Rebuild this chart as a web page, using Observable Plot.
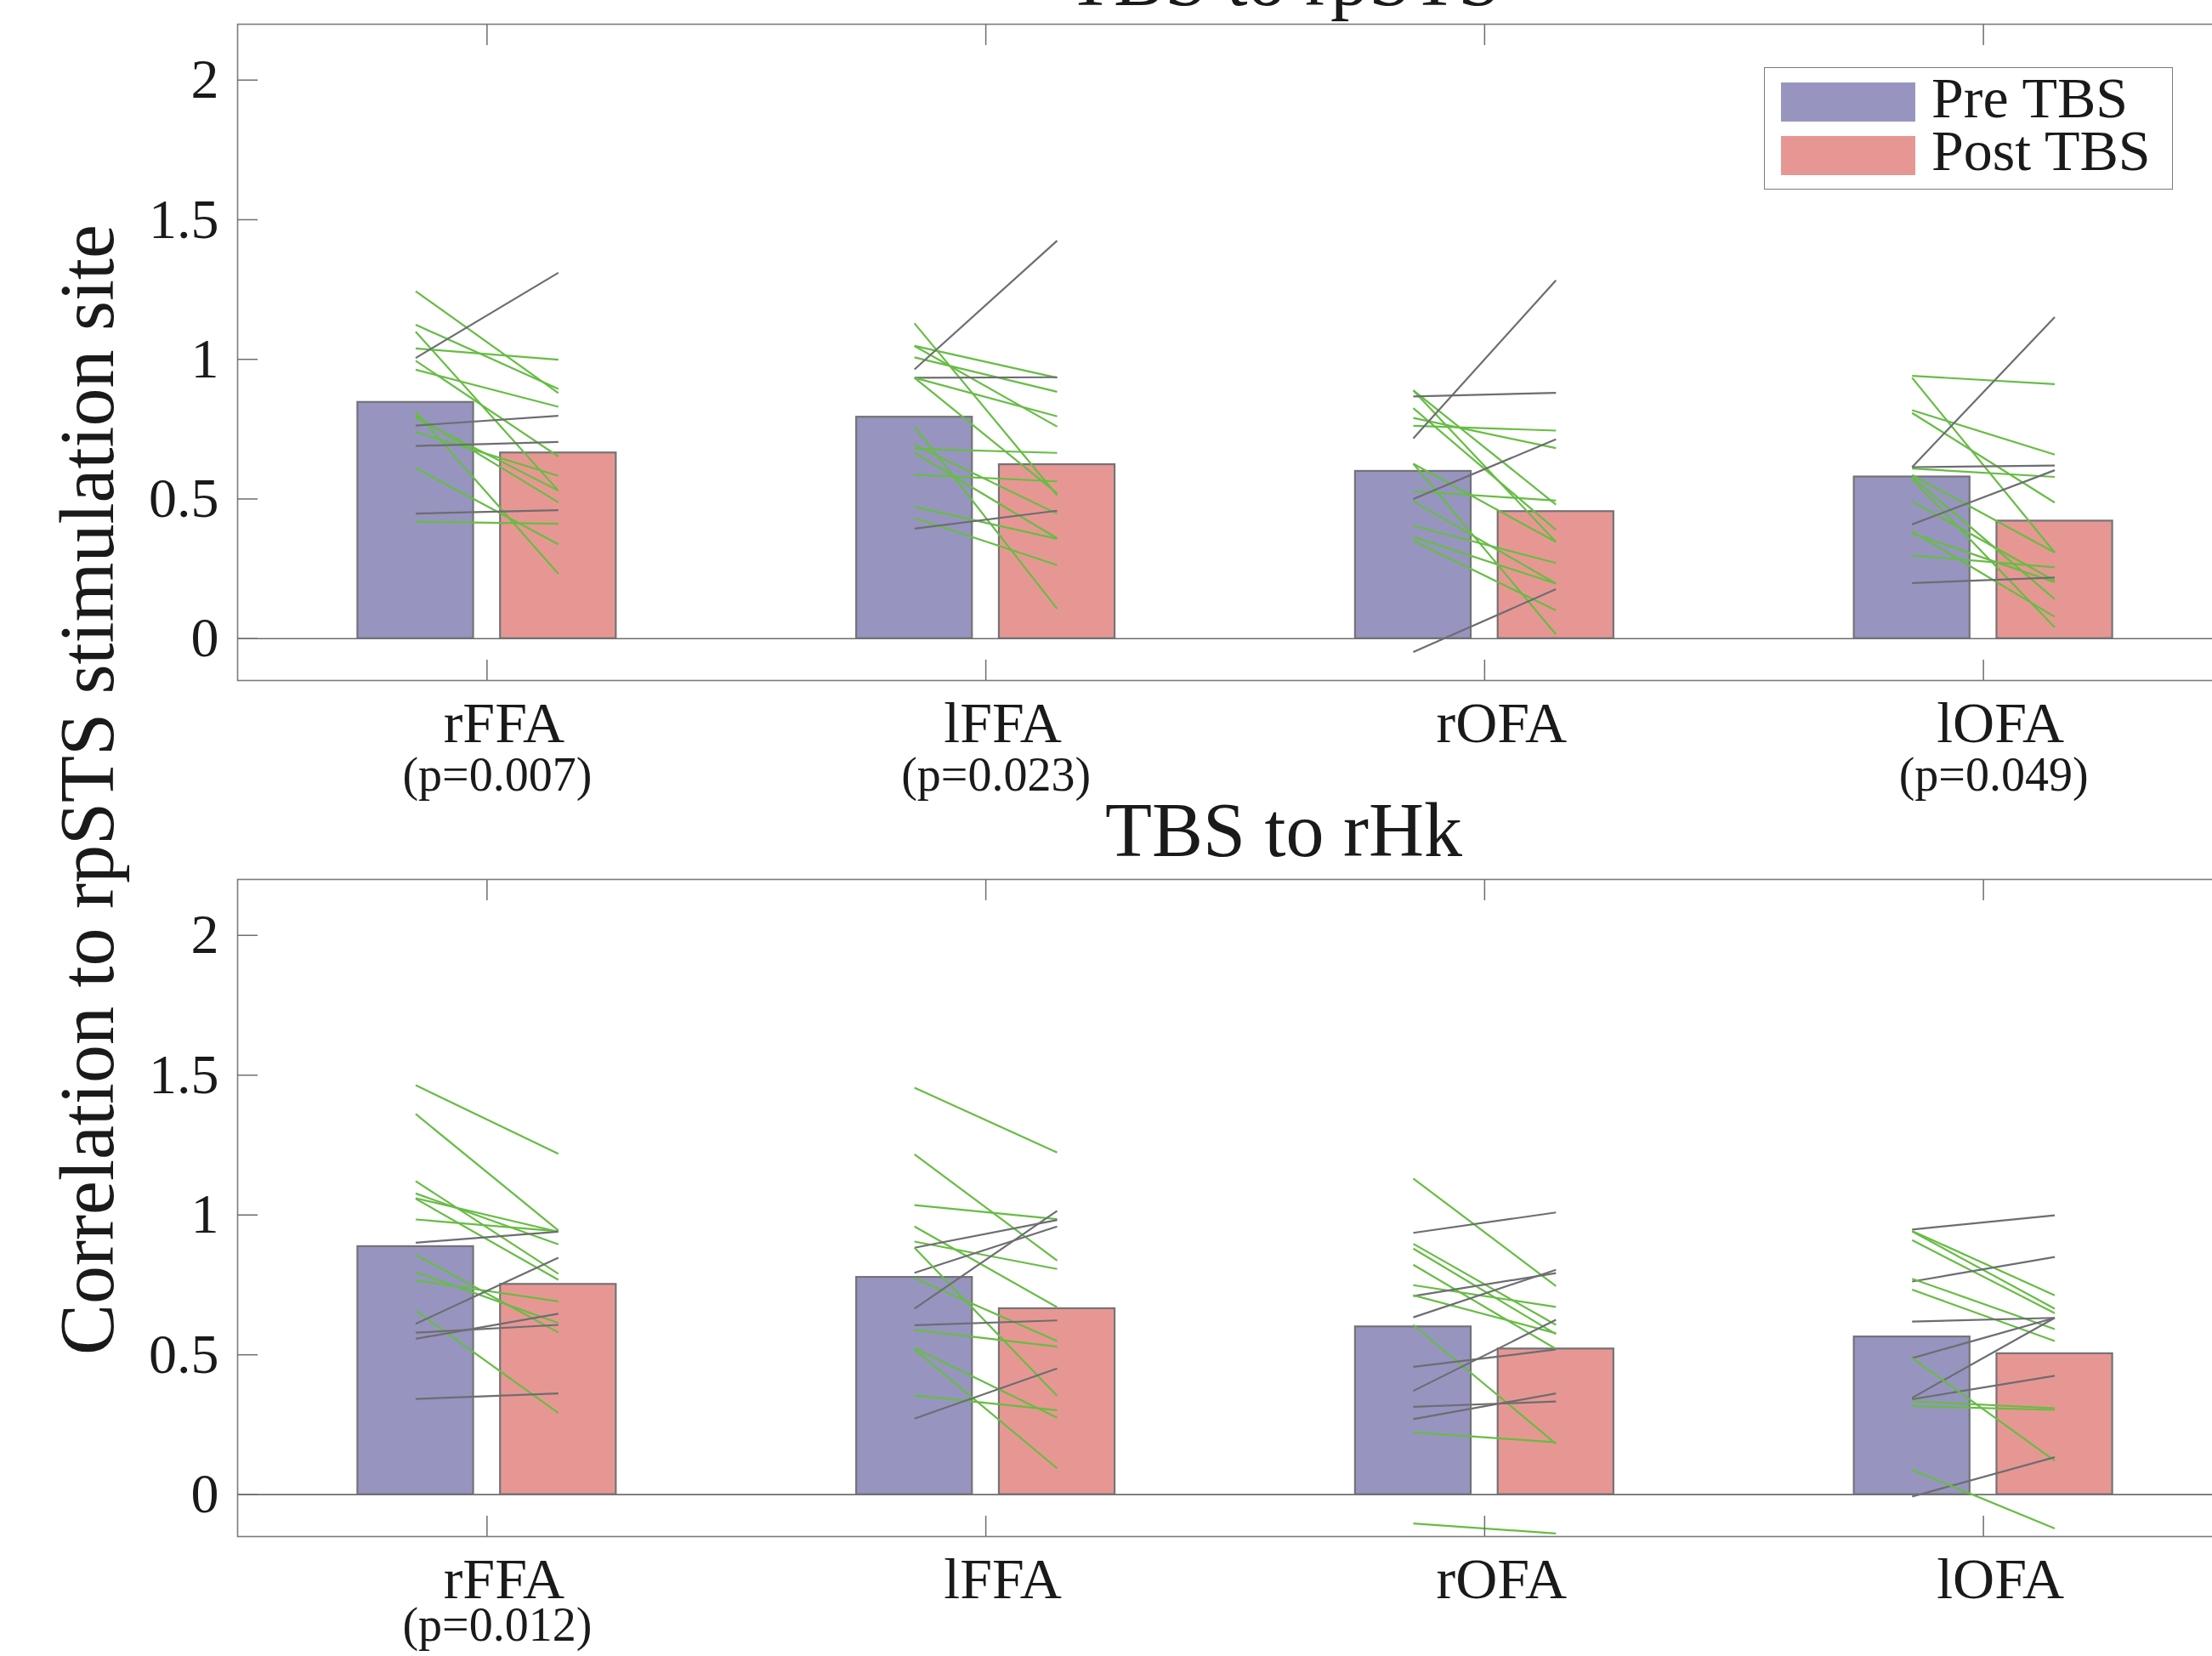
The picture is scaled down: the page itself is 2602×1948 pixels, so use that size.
<!DOCTYPE html>
<html><head><meta charset="utf-8">
<script src="https://cdn.jsdelivr.net/npm/d3@7"></script>
<script src="https://cdn.jsdelivr.net/npm/@observablehq/plot@0.6"></script>
<style>
html,body{margin:0;padding:0;background:#fff;overflow:hidden;}
#wrap{position:relative;width:2602px;height:1948px;overflow:hidden;font-family:"Liberation Serif","Times New Roman",serif;color:#1a1a1a;}
.abs{position:absolute;white-space:nowrap;}
#wrap svg{max-width:none !important;}
</style></head><body><div id="wrap"></div>
<script>
// ---------- data ----------
const regions = ["rFFA", "lFFA", "rOFA", "lOFA"];
const conditions = ["Pre TBS", "Post TBS"];
const yTicks = [0, 0.5, 1, 1.5, 2];
const titles = ["TBS to rpSTS", "TBS to rHk"];
const yLabel = "Correlation to rpSTS stimulation site";

const pLabelsTop = ["(p=0.007)", "(p=0.023)", "", "(p=0.049)"];
const pLabelsBottom = ["(p=0.012)", "", "", ""];

const barPreTop = [0.846, 0.793, 0.599, 0.579];
const barPostTop = [0.665, 0.623, 0.455, 0.421];
const barPreBottom = [0.887, 0.777, 0.600, 0.564];
const barPostBottom = [0.752, 0.665, 0.521, 0.504];

// individual subjects, top panel (TBS to rpSTS)
const preTop_rFFA  = [1.244, 1.124, 1.099, 1.039, 1.005, 0.995, 0.963, 0.811, 0.798, 0.790, 0.763, 0.740, 0.690, 0.611, 0.448, 0.419];
const postTop_rFFA = [0.879, 0.894, 0.530, 0.999, 1.310, 0.652, 0.830, 0.232, 0.488, 0.530, 0.798, 0.583, 0.704, 0.338, 0.460, 0.411];
const preTop_lFFA  = [1.129, 1.048, 1.048, 1.007, 0.964, 0.934, 0.934, 0.934, 0.759, 0.694, 0.680, 0.665, 0.587, 0.472, 0.432, 0.394];
const postTop_lFFA = [0.513, 0.934, 0.759, 0.884, 1.425, 0.936, 0.796, 0.520, 0.107, 0.447, 0.665, 0.359, 0.563, 0.357, 0.263, 0.458];
const preTop_rOFA  = [0.889, 0.889, 0.825, 0.790, 0.762, 0.626, 0.626, 0.528, 0.492, 0.404, 0.364, 0.351, 0.717, 0.867, 0.500, -0.048];
const postTop_rOFA = [0.346, 0.480, 0.389, 0.682, 0.745, 0.346, 0.015, 0.494, 0.197, 0.271, 0.197, 0.101, 1.283, 0.880, 0.714, 0.177];
const preTop_lOFA  = [0.941, 0.934, 0.818, 0.808, 0.609, 0.586, 0.579, 0.571, 0.492, 0.384, 0.377, 0.298, 0.614, 0.614, 0.409, 0.199];
const postTop_lOFA = [0.911, 0.308, 0.659, 0.487, 0.579, 0.308, 0.141, 0.040, 0.207, 0.078, 0.202, 0.255, 1.151, 0.620, 0.603, 0.219];

// individual subjects, bottom panel (TBS to rHk)
const preBot_rFFA  = [1.464, 1.361, 1.121, 1.077, 1.060, 1.058, 0.984, 0.901, 0.858, 0.796, 0.766, 0.658, 0.611, 0.579, 0.557, 0.342];
const postBot_rFFA = [1.219, 0.945, 0.790, 0.895, 0.940, 0.768, 0.942, 0.940, 0.580, 0.614, 0.691, 0.292, 0.847, 0.607, 0.647, 0.362];
const preBot_lFFA  = [1.455, 1.217, 1.035, 0.959, 0.905, 0.883, 0.793, 0.883, 0.774, 0.665, 0.606, 0.589, 0.524, 0.519, 0.354, 0.272];
const postBot_lFFA = [1.223, 0.837, 0.985, 0.670, 0.807, 0.982, 0.959, 0.353, 0.549, 1.015, 0.623, 0.529, 0.275, 0.094, 0.302, 0.451];
const preBot_rOFA  = [1.130, 0.936, 0.897, 0.880, 0.822, 0.749, 0.710, 0.713, 0.634, 0.607, 0.457, 0.371, 0.314, 0.270, 0.223, -0.103];
const postBot_rOFA = [0.746, 1.009, 0.607, 0.574, 0.521, 0.671, 0.792, 0.577, 0.804, 0.182, 0.519, 0.625, 0.333, 0.362, 0.187, -0.139];
const preBot_lOFA  = [0.948, 0.943, 0.941, 0.910, 0.762, 0.772, 0.733, 0.619, 0.488, 0.346, 0.341, 0.489, 0.334, 0.316, -0.007, 0.089];
const postBot_lOFA = [0.999, 0.713, 0.665, 0.649, 0.850, 0.592, 0.549, 0.632, 0.632, 0.632, 0.425, 0.121, 0.309, 0.303, 0.134, -0.121];

// ---------- style ----------
const PRE_COLOR = "#9795bf", POST_COLOR = "#e79793";
const GREEN = "#66bd44", GRAY = "#6d6d72";
const OFF = 0.143, HALF = 0.116;

function panel(pre, post, barPre, barPost, pLabels, height, marginTop, marginBottom, pDy) {
  const bars = [];
  regions.forEach((r, i) => {
    bars.push({cond: conditions[0], x1: i + 1 - OFF - HALF, x2: i + 1 - OFF + HALF, v: barPre[i]});
    bars.push({cond: conditions[1], x1: i + 1 + OFF - HALF, x2: i + 1 + OFF + HALF, v: barPost[i]});
  });
  const links = [];
  regions.forEach((r, i) => pre[i].forEach((p, j) =>
    links.push({x1: i + 1 - OFF, x2: i + 1 + OFF, y1: p, y2: post[i][j], up: post[i][j] > p})));
  const pData = regions.map((r, i) => ({x: i + 1, t: pLabels[i]})).filter(d => d.t);
  const svg = Plot.plot({
    width: 2626, height, marginLeft: 279, marginRight: 0, marginTop, marginBottom,
    x: {domain: [0.5, 4.5]},
    y: {domain: [-0.15, 2.2]},
    color: {domain: conditions, range: [PRE_COLOR, POST_COLOR]},
    style: {fontFamily: "'Liberation Serif', 'Times New Roman', serif", color: "#1a1a1a", background: "transparent", overflow: "visible"},
    marks: [
      Plot.ruleY([0], {stroke: "#6e6e6e", strokeWidth: 1.6}),
      Plot.rect(bars, {x1: "x1", x2: "x2", y1: 0, y2: "v", fill: "cond", stroke: "#737377", strokeWidth: 2.2}),
      Plot.link(links, {x1: "x1", x2: "x2", y1: "y1", y2: "y2", stroke: d => d.up ? GRAY : GREEN, strokeWidth: 2.2}),
      Plot.frame({stroke: "#7b7b7b", strokeWidth: 1.6}),
      Plot.axisY({ticks: yTicks, tickSize: 0, tickPadding: 22, tickFormat: d => String(d), fontSize: 66, label: null}),
      Plot.axisY({ticks: yTicks, tickSize: 24, dx: 24, tickFormat: () => "", stroke: "#6e6e6e", strokeWidth: 1.5, label: null}),
      Plot.axisX({ticks: [1, 2, 3, 4], tickFormat: d => regions[d - 1], tickSize: 0, tickPadding: 24, dx: 20, fontSize: 68, label: null}),
      Plot.axisX({ticks: [1, 2, 3, 4], tickSize: 24, dy: -24, tickFormat: () => "", stroke: "#6e6e6e", strokeWidth: 1.5, label: null}),
      Plot.axisX({anchor: "top", ticks: [1, 2, 3, 4], tickSize: 24, dy: 24, tickFormat: () => "", stroke: "#6e6e6e", strokeWidth: 1.5, label: null}),
      Plot.text(pData, {x: "x", text: "t", frameAnchor: "bottom", dy: pDy, dx: 12, fontSize: 56, lineAnchor: "middle", fill: "#1a1a1a"})
    ]
  });
  svg.style.maxWidth = "none";
  svg.style.width = "2626px";
  svg.style.height = height + "px";
  return svg;
}

const wrap = document.getElementById("wrap");

const topPanel = panel(
  [preTop_rFFA, preTop_lFFA, preTop_rOFA, preTop_lOFA],
  [postTop_rFFA, postTop_lFFA, postTop_rOFA, postTop_lOFA],
  barPreTop, barPostTop, pLabelsTop, 950, 28, 150, 112);
topPanel.style.position = "absolute"; topPanel.style.left = "0px"; topPanel.style.top = "0px";
wrap.appendChild(topPanel);

const botPanel = panel(
  [preBot_rFFA, preBot_lFFA, preBot_rOFA, preBot_lOFA],
  [postBot_rFFA, postBot_lFFA, postBot_rOFA, postBot_lOFA],
  barPreBottom, barPostBottom, pLabelsBottom, 998, 84, 141, 105);
botPanel.style.position = "absolute"; botPanel.style.left = "0px"; botPanel.style.top = "950px";
wrap.appendChild(botPanel);

function addDiv(text, css) {
  const d = document.createElement("div");
  d.className = "abs";
  d.textContent = text;
  Object.assign(d.style, css);
  wrap.appendChild(d);
  return d;
}
// titles
addDiv(titles[0], {left: "1510px", top: "-69px", fontSize: "90px", lineHeight: "90px", transform: "translateX(-50%)"});
addDiv(titles[1], {left: "1510px", top: "932px", fontSize: "90px", lineHeight: "90px", transform: "translateX(-50%)"});
// y label
addDiv(yLabel, {left: "103px", top: "929px", fontSize: "90px", lineHeight: "90px", transform: "translate(-50%,-50%) rotate(-90deg)"});
// legend
addDiv("", {left: "2075px", top: "79px", width: "479px", height: "142px", border: "1.6px solid #7a7a7a", background: "#fff"});
addDiv("", {left: "2095px", top: "97px", width: "158px", height: "46px", background: PRE_COLOR});
addDiv("", {left: "2095px", top: "160px", width: "158px", height: "46px", background: POST_COLOR});
addDiv(conditions[0], {left: "2272px", top: "86px", fontSize: "68px", lineHeight: "58px"});
addDiv(conditions[1], {left: "2272px", top: "148px", fontSize: "68px", lineHeight: "58px"});
</script>
</body></html>
